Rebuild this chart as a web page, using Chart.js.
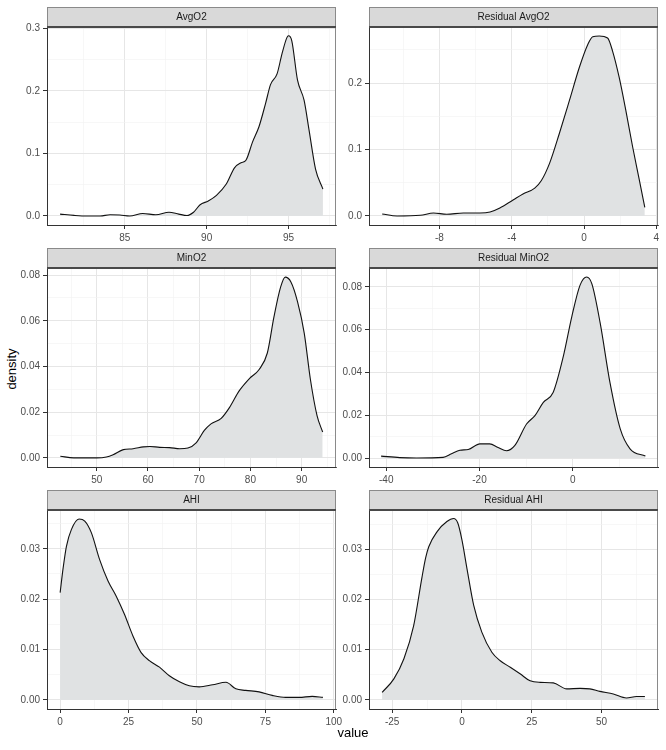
<!DOCTYPE html>
<html>
<head>
<meta charset="utf-8">
<script src="https://cdn.jsdelivr.net/npm/chart.js@4.4.0/dist/chart.umd.min.js"></script>
<style>
  body { margin: 0; background: #fff; width: 666px; height: 750px; position: relative; overflow: hidden;
         font-family: "Liberation Sans", Arial, sans-serif; }
  canvas { position: absolute; }
  .lab { position: absolute; font-size: 13px; color: #000; text-align: center; line-height: 16px; }
</style>
</head>
<body>
<canvas id="avgO2" width="326" height="238" style="left:20px;top:7px"></canvas>
<canvas id="resAvgO2" width="326" height="238" style="left:340px;top:7px"></canvas>
<canvas id="minO2" width="326" height="239" style="left:20px;top:248px"></canvas>
<canvas id="resMinO2" width="326" height="239" style="left:340px;top:248px"></canvas>
<canvas id="ahi" width="326" height="239" style="left:20px;top:490px"></canvas>
<canvas id="resAhi" width="326" height="239" style="left:340px;top:490px"></canvas>
<div class="lab" style="left:-18px;top:361px;width:60px;transform:rotate(-90deg)">density</div>
<div class="lab" style="left:320px;top:725px;width:66px">value</div>
<script>
// densités
var avgO2X = [81.05, 81.9, 82.7, 83.5, 84.1, 84.7, 85.3, 86.1, 86.9, 87.7, 88.3, 88.8, 89.2, 89.6, 90.1, 90.6, 91.2, 91.7, 92.1, 92.4, 92.8, 93.2, 93.6, 93.9, 94.3, 94.6, 94.9, 95.0, 95.2, 95.55, 95.95, 96.25, 96.65, 97.1];
var avgO2Y = [0.003, 0.001, 0.0, 0.0, 0.002, 0.0015, 0.0, 0.004, 0.002, 0.006, 0.003, 0.0008, 0.006, 0.018, 0.024, 0.033, 0.051, 0.077, 0.085, 0.089, 0.118, 0.143, 0.18, 0.21, 0.227, 0.259, 0.285, 0.288, 0.28, 0.217, 0.185, 0.138, 0.075, 0.043];

var resAvgO2X = [-11.17, -10.35, -9.06, -8.33, -7.6, -6.68, -5.76, -5.2, -4.66, -3.93, -3.38, -2.73, -2.37, -1.9, -1.36, -0.81, -0.26, 0.2, 0.48, 0.84, 1.3, 1.58, 1.94, 2.31, 2.68, 3.05, 3.36];
var resAvgO2Y = [0.003, 0.0, 0.001, 0.0045, 0.0025, 0.0045, 0.0045, 0.006, 0.012, 0.024, 0.033, 0.042, 0.053, 0.08, 0.125, 0.174, 0.224, 0.258, 0.27, 0.271, 0.268, 0.248, 0.209, 0.159, 0.105, 0.055, 0.013];

var minO2X = [42.9, 45.5, 50, 51.9, 53.2, 55.2, 57.1, 59.1, 60.4, 62.3, 64.2, 66.2, 67.8, 69.4, 71.0, 72.3, 74.3, 75.9, 77.8, 79.8, 81.7, 83.3, 84.6, 85.9, 86.8, 87.9, 89.2, 90.5, 91.7, 93.0, 94.1];
var minO2Y = [0.0007, 0, 0, 0.0004, 0.0014, 0.0036, 0.004, 0.0048, 0.005, 0.0046, 0.0045, 0.004, 0.0043, 0.0066, 0.012, 0.0149, 0.0173, 0.022, 0.0293, 0.0347, 0.0387, 0.0459, 0.0618, 0.0748, 0.0791, 0.077, 0.0683, 0.0546, 0.0344, 0.0185, 0.0113];

var resMinO2X = [-41.1, -37.1, -33.5, -27.8, -26.0, -24.2, -22.4, -19.9, -17.8, -16.0, -14.2, -12.4, -9.9, -8.1, -6.3, -4.2, -2.0, -0.2, 1.58, 3.0, 4.1, 5.9, 8.0, 10.2, 12.3, 15.6];
var resMinO2Y = [0.0009, 0.0002, 0, 0.0003, 0.002, 0.0036, 0.004, 0.0066, 0.0066, 0.0049, 0.0034, 0.0059, 0.0159, 0.0198, 0.026, 0.0306, 0.0476, 0.066, 0.0808, 0.0846, 0.0815, 0.063, 0.0352, 0.0136, 0.0043, 0.0009];

var ahiX = [0, 1.1, 2.3, 4.1, 6.9, 9.0, 11.4, 14.4, 17.5, 20.5, 23.5, 26.6, 29.6, 32.6, 36.3, 39.9, 43.6, 47.2, 50.8, 55.7, 60.6, 64.2, 67.8, 72.7, 77.5, 82.4, 87.3, 92.1, 96.0];
var ahiY = [0.0213, 0.0262, 0.0305, 0.0338, 0.0359, 0.0355, 0.0332, 0.0279, 0.0236, 0.0206, 0.017, 0.0127, 0.0094, 0.0078, 0.0065, 0.0048, 0.0036, 0.0028, 0.0026, 0.003, 0.0035, 0.0022, 0.0019, 0.0016, 0.0009, 0.0005, 0.0005, 0.0007, 0.0005];

var resAhiX = [-28.6, -24.4, -20.8, -17.3, -14.3, -13.0, -11.9, -8.9, -5.4, -3.0, -1.5, 0, 1.8, 4.2, 7.1, 10.7, 13.7, 17.3, 20.8, 24.4, 28.0, 32.7, 37.5, 42.3, 45.8, 49.4, 54.2, 58.9, 62.5, 65.5];
var resAhiY = [0.0015, 0.0042, 0.0082, 0.0148, 0.0245, 0.0283, 0.0305, 0.0335, 0.0355, 0.0361, 0.0352, 0.0318, 0.0261, 0.0188, 0.0135, 0.0095, 0.0078, 0.0065, 0.0052, 0.0038, 0.0035, 0.0034, 0.0022, 0.0023, 0.0022, 0.0017, 0.0012, 0.0004, 0.0007, 0.0007];

// graduations
var avgO2XTicks = [85, 90, 95];
var avgO2YTicks = [0, 0.1, 0.2, 0.3];
var resAvgO2XTicks = [-8, -4, 0, 4];
var resAvgO2YTicks = [0, 0.1, 0.2];
var minO2XTicks = [50, 60, 70, 80, 90];
var minO2YTicks = [0, 0.02, 0.04, 0.06, 0.08];
var resMinO2XTicks = [-40, -20, 0];
var resMinO2YTicks = [0, 0.02, 0.04, 0.06, 0.08];
var ahiXTicks = [0, 25, 50, 75, 100];
var ahiYTicks = [0, 0.01, 0.02, 0.03];
var resAhiXTicks = [-25, 0, 25, 50];
var resAhiYTicks = [0, 0.01, 0.02, 0.03];

var FONT = '"Liberation Sans", Arial, sans-serif';

function isMajor(v, major) {
  return major.some(function(m) { return Math.abs(m - v) < 1e-9; });
}

// majeures + mineures (à mi-chemin) comme ggplot
function withMinor(major, min, max) {
  var step = major[1] - major[0];
  var all = major.slice();
  for (var i = -1; i < major.length; i++) {
    var m = major[0] + step * i + step / 2;
    all.push(m);
  }
  return all.filter(function(v) { return v > min && v < max; })
            .sort(function(a, b) { return a - b; });
}

// bandeau gris + cadre du panneau
var stripPlugin = {
  id: 'strip',
  afterDatasetsDraw: function(chart) {
    var a = chart.chartArea, ctx = chart.ctx;
    ctx.save();
    ctx.strokeStyle = '#8a8a8a';
    ctx.lineWidth = 1;
    ctx.beginPath();
    ctx.moveTo(a.left, a.top + 0.5);
    ctx.lineTo(a.right - 0.5, a.top + 0.5);
    ctx.lineTo(a.right - 0.5, a.bottom);
    ctx.stroke();
    ctx.restore();
  },
  afterDraw: function(chart) {
    var a = chart.chartArea, ctx = chart.ctx;
    var h = 20;
    ctx.save();
    ctx.fillStyle = '#d9d9d9';
    ctx.fillRect(a.left, a.top - h, a.right - a.left, h);
    ctx.strokeStyle = '#8a8a8a';
    ctx.lineWidth = 1;
    ctx.strokeRect(a.left + 0.5, a.top - h + 0.5, a.right - a.left - 1, h - 1);
    ctx.strokeStyle = '#333';
    ctx.lineWidth = 1.5;
    ctx.beginPath();
    ctx.moveTo(a.left, a.top);
    ctx.lineTo(a.right, a.top);
    ctx.stroke();
    ctx.fillStyle = '#1a1a1a';
    ctx.font = '10px ' + FONT;
    ctx.textAlign = 'center';
    ctx.textBaseline = 'middle';
    ctx.fillText(chart.options.plugins.strip.title, (a.left + a.right) / 2, a.top - h / 2 + 0.5);
    ctx.restore();
  }
};

function makePanel(id, title, xs, ys, xTicks, yTicks, xMin, xMax, yMin, yMax, yDigits, yWidth, padRight) {
  var pts = xs.map(function(x, i) { return { x: x, y: ys[i] }; });

  function axis(major, min, max, fmt) {
    return {
      type: 'linear',
      min: min,
      max: max,
      afterBuildTicks: function(scale) {
        scale.ticks = withMinor(major, min, max).map(function(v) { return { value: v }; });
      },
      ticks: {
        autoSkip: false,
        maxRotation: 0,
        color: '#4d4d4d',
        font: { family: FONT, size: 10 },
        padding: 3,
        callback: function(v) { return isMajor(v, major) ? fmt(v) : ''; }
      },
      grid: {
        color: function(c) { return isMajor(c.tick.value, major) ? '#e6e6e6' : '#f2f2f2'; },
        lineWidth: function(c) { return isMajor(c.tick.value, major) ? 1 : 0.6; },
        tickColor: function(c) { return isMajor(c.tick.value, major) ? '#333' : 'rgba(0,0,0,0)'; },
        tickLength: 4,
        drawTicks: true
      },
      border: { display: true, color: '#333', width: 1 }
    };
  }

  var xAxis = axis(xTicks, xMin, xMax, function(v) { return String(v); });
  xAxis.afterFit = function(s) { s.height = 20; };
  var yAxis = axis(yTicks, yMin, yMax, function(v) { return v.toFixed(yDigits); });
  yAxis.afterFit = function(s) { s.width = yWidth; };

  return new Chart(document.getElementById(id), {
    type: 'line',
    data: {
      datasets: [{
        data: pts,
        borderColor: '#111',
        borderWidth: 1.1,
        backgroundColor: 'rgb(224,226,227)',
        fill: 'origin',
        pointRadius: 0,
        cubicInterpolationMode: 'monotone'
      }]
    },
    options: {
      responsive: false,
      animation: false,
      devicePixelRatio: 1,
      layout: { padding: { top: 20, right: padRight, bottom: 0, left: 0 } },
      plugins: {
        legend: { display: false },
        tooltip: { enabled: false },
        strip: { title: title }
      },
      scales: { x: xAxis, y: yAxis }
    },
    plugins: [stripPlugin]
  });
}

makePanel('avgO2', 'AvgO2', avgO2X, avgO2Y, avgO2XTicks, avgO2YTicks, 80.25, 97.9, -0.0144, 0.302, 1, 27, 10);
makePanel('resAvgO2', 'Residual AvgO2', resAvgO2X, resAvgO2Y, resAvgO2XTicks, resAvgO2YTicks, -11.9, 4.09, -0.0136, 0.2846, 1, 29, 8);
makePanel('minO2', 'MinO2', minO2X, minO2Y, minO2XTicks, minO2YTicks, 40.3, 96.7, -0.004, 0.0831, 2, 27, 10);
makePanel('resMinO2', 'Residual MinO2', resMinO2X, resMinO2Y, resMinO2XTicks, resMinO2YTicks, -43.7, 18.3, -0.0042, 0.0888, 2, 29, 8);
makePanel('ahi', 'AHI', ahiX, ahiY, ahiXTicks, ahiYTicks, -4.8, 100.8, -0.0018, 0.0377, 2, 27, 10);
makePanel('resAhi', 'Residual AHI', resAhiX, resAhiY, resAhiXTicks, resAhiYTicks, -33.3, 70.2, -0.0018, 0.0378, 2, 29, 8);
</script>
</body>
</html>
